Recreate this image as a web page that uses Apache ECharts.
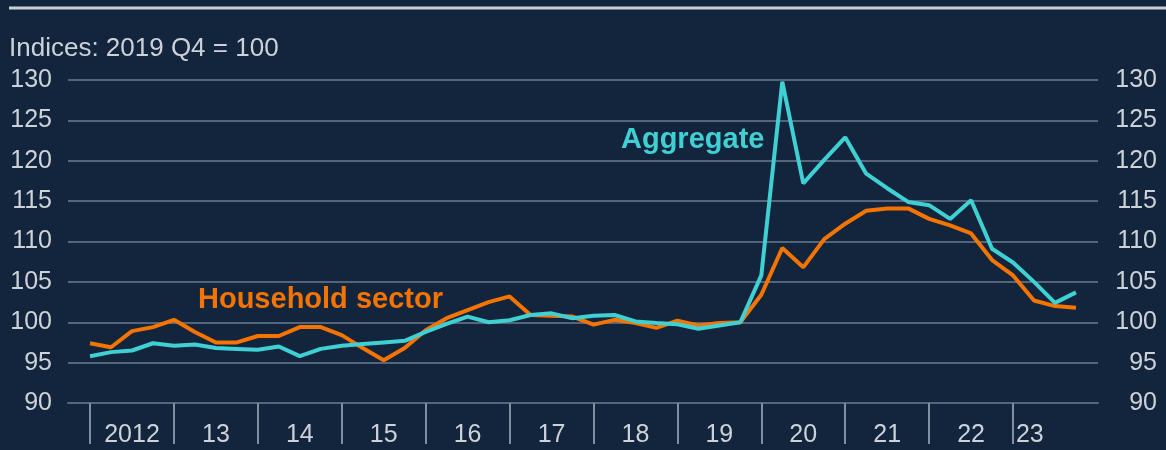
<!DOCTYPE html>
<html>
<head>
<meta charset="utf-8">
<script src="https://cdn.jsdelivr.net/npm/echarts@6/dist/echarts.min.js"></script>
<style>
  html, body { margin: 0; padding: 0; background: #13243d; }
  #chart { width: 1166px; height: 450px; }
</style>
</head>
<body>
<div id="chart"></div>
<script>
// quarters 2012 Q1 .. 2023 Q4 (index 0..47)
const yearLabels = ['2012', '13', '14', '15', '16', '17', '18', '19', '20', '21', '22', '23']
const yearStarts = [0, 4, 8, 12, 16, 20, 24, 28, 32, 36, 40, 44]
const labelPos = [2, 6, 10, 14, 18, 22, 26, 30, 34, 38, 42, 44.8]

// 家庭部门
const household = [
  97.4, 96.9, 98.9, 99.4, 100.3, 98.8, 97.5, 97.5, 98.3, 98.3, 99.4, 99.4,
  98.4, 96.8, 95.3, 96.8, 99.0, 100.5, 101.5, 102.5, 103.2, 100.9, 100.8, 100.7,
  99.7, 100.3, 99.9, 99.3, 100.2, 99.6, 99.9, 100.0, 103.4, 109.2, 106.8, 110.3,
  112.2, 113.8, 114.1, 114.1, 112.8, 112.0, 111.0, 107.7, 105.8, 102.7, 102.0, 101.8
]
// 总量
const aggregate = [
  95.8, 96.3, 96.5, 97.4, 97.1, 97.25, 96.8, 96.7, 96.6, 97.0, 95.8, 96.7,
  97.1, 97.3, 97.5, 97.7, 98.8, 99.8, 100.7, 100.0, 100.25, 100.9, 101.1, 100.5,
  100.8, 100.9, 100.1, 99.9, 99.75, 99.2, 99.6, 100.0, 105.8, 129.8, 117.2, 120.1,
  122.9, 118.4, 116.6, 114.9, 114.5, 112.8, 115.1, 109.1, 107.4, 105.0, 102.4, 103.7
]

const textColor = '#cdd2d9'
const gridColor = '#56657a'
const font = '"Liberation Sans", Arial, sans-serif'

const chart = echarts.init(document.getElementById('chart'))

chart.setOption({
  backgroundColor: '#13243d',
  animation: false,
  textStyle: { fontFamily: font },
  grid: { left: 68, right: 68, top: 80, bottom: 47 },
  graphic: [
    // 顶部白线
    {
      type: 'line',
      shape: { x1: 9, y1: 8, x2: 1166, y2: 8 },
      style: { stroke: '#c9d0d8', lineWidth: 3 }
    },
    {
      type: 'text',
      left: 9,
      top: 36,
      style: { text: 'Indices: 2019 Q4 = 100', fill: textColor, font: '26px ' + font }
    },
    {
      type: 'text',
      left: 621,
      top: 125,
      style: { text: 'Aggregate', fill: '#3fd0d4', font: 'bold 29px ' + font }
    },
    {
      type: 'text',
      left: 198,
      top: 285,
      style: { text: 'Household sector', fill: '#f57400', font: 'bold 29px ' + font }
    }
  ],
  xAxis: {
    type: 'value',
    min: -1.05,
    max: 48.05,
    splitLine: { show: false },
    axisLine: { lineStyle: { color: gridColor, width: 2 } },
    axisTick: {
      customValues: yearStarts,
      length: 41,
      lineStyle: { color: '#8090a3', width: 2 }
    },
    axisLabel: {
      customValues: labelPos,
      margin: 20,
      color: textColor,
      fontSize: 25,
      formatter: (v) => {
        const k = Math.min(Math.floor(v / 4), 11)
        // "20" 在原图中略高
        return k === 8 ? '{up|' + yearLabels[k] + '}' : yearLabels[k]
      },
      rich: {
        up: { fontSize: 25, color: textColor, padding: [0, 0, 10, 0] }
      }
    }
  },
  yAxis: [
    {
      type: 'value',
      min: 90,
      max: 130,
      interval: 5,
      axisLine: { show: false },
      axisTick: { show: false },
      splitLine: { lineStyle: { color: gridColor, width: 2 } },
      axisLabel: { color: textColor, fontSize: 25, margin: 16 }
    },
    {
      type: 'value',
      position: 'right',
      min: 90,
      max: 130,
      interval: 5,
      axisLine: { show: false },
      axisTick: { show: false },
      splitLine: { show: false },
      axisLabel: { color: textColor, fontSize: 25, margin: 59, align: 'right' }
    }
  ],
  series: [
    {
      name: 'Household sector',
      type: 'line',
      showSymbol: false,
      lineStyle: { color: '#f57400', width: 4 },
      data: household.map((v, i) => [i, v]),
      z: 2
    },
    {
      name: 'Aggregate',
      type: 'line',
      showSymbol: false,
      lineStyle: { color: '#3fd0d4', width: 4 },
      data: aggregate.map((v, i) => [i, v]),
      z: 3
    }
  ]
})
</script>
</body>
</html>
